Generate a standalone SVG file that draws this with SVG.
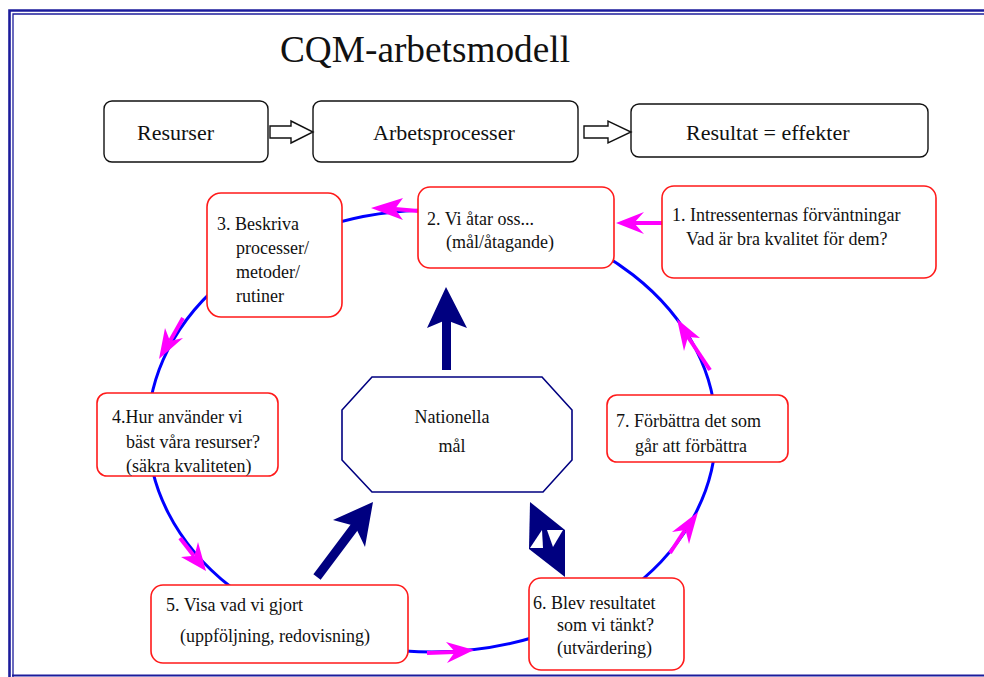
<svg xmlns="http://www.w3.org/2000/svg" width="984" height="677" viewBox="0 0 984 677" font-family="'Liberation Serif','Times New Roman',serif">
<style>
text{font-family:"Liberation Serif","Times New Roman",serif;fill:#111}
.t{font-size:18px}
.top{font-size:22px}
.rb{fill:#fff;stroke:#ff1a1a;stroke-width:1.6}
.bb{fill:#fff;stroke:#111;stroke-width:1.4}
.mg{stroke:#ff00ff;stroke-width:4;fill:none}
.mh{fill:#ff00ff}
.nv{fill:#000080}
</style>
<rect width="984" height="677" fill="#fff"/>
<g id="frame" fill="none" stroke="#1c1c9c">
<path d="M9.5,677 V10.5 H984" stroke-width="2.6"/>
<path d="M13,677 V14 H984" stroke-width="1.3"/>
<path d="M12,675.5 H984" stroke-width="2.2"/>
</g>
<text id="title" x="280" y="62" font-size="37" textLength="290" lengthAdjust="spacingAndGlyphs">CQM-arbetsmodell</text>

<g id="ring">
<ellipse cx="432" cy="431" rx="284" ry="221" fill="none" stroke="#0000ff" stroke-width="3"/>
</g>

<g id="resurser"><rect class="bb" x="104" y="101" width="164" height="61" rx="8"/><text class="top" x="137" y="140">Resurser</text></g>
<g id="arbetsprocesser"><rect class="bb" x="313" y="101" width="265" height="61" rx="8"/><text class="top" x="373" y="140">Arbetsprocesser</text></g>
<g id="resultat"><rect class="bb" x="631" y="104" width="297" height="53" rx="8"/><text class="top" x="686" y="140">Resultat = effekter</text></g>

<g id="connectors">
<path class="bb" d="M270,126 H291 V121 L313,132 L291,143 V138 H270 Z"/>
<path class="bb" d="M584,126 H608 V121 L631,132 L608,143 V138 H584 Z"/>
<line class="mg" x1="418" y1="211" x2="395" y2="209"/>
<polygon class="mh" points="371,208 403,198 395,209 403,220"/>
<line class="mg" x1="670" y1="223" x2="633" y2="223"/>
<polygon class="mh" points="616,223 644,212 634,223 644,234"/>
<line class="mg" x1="183" y1="318" x2="170" y2="341"/>
<polygon class="mh" points="159,359 165,328 170,341 183,338"/>
<line class="mg" x1="180" y1="538" x2="194" y2="556"/>
<polygon class="mh" points="206,571 181,557 194.5,555.7 198,542"/>
<line class="mg" x1="427" y1="653" x2="455" y2="652"/>
<polygon class="mh" points="474,650 446,642 455,651.8 447,663"/>
<line class="mg" x1="670" y1="553" x2="685" y2="530"/>
<polygon class="mh" points="698,512 672,532 685.5,530 689,544"/>
<line class="mg" x1="710" y1="370" x2="688" y2="337"/>
<polygon class="mh" points="677,319 700,338 688,337 684,351"/>
<rect class="nv" x="442" y="318" width="9" height="52"/>
<polygon class="nv" points="446,287 467,328 446,320 427,328"/>
<line x1="317" y1="577" x2="356" y2="525" stroke="#000080" stroke-width="9"/>
<polygon class="nv" points="373,502 365,547 355,526 333,520"/>
<polygon class="nv" points="530,502 565,530 565,577 529,549"/>
<polygon fill="#fff" points="530,548 542,530 543,548"/>
<polygon fill="#fff" points="547,530 563,530 553,547"/>
</g>

<g id="n1"><rect class="rb" x="662" y="186" width="274" height="92" rx="12"/>
<text class="t" x="672" y="221">1. Intressenternas förväntningar</text>
<text class="t" x="686" y="245">Vad är bra kvalitet för dem?</text></g>
<g id="n2"><rect class="rb" x="418" y="187" width="196" height="81" rx="12"/>
<text class="t" x="427" y="225">2. Vi åtar oss...</text>
<text class="t" x="446" y="248">(mål/åtagande)</text></g>
<g id="n3"><rect class="rb" x="207" y="193" width="135" height="124" rx="14"/>
<text class="t" x="217" y="230">3. Beskriva</text>
<text class="t" x="236" y="254">processer/</text>
<text class="t" x="236" y="278">metoder/</text>
<text class="t" x="236" y="302">rutiner</text></g>
<g id="n4"><rect class="rb" x="97" y="393" width="181" height="83" rx="10"/>
<text class="t" x="112" y="423">4.Hur använder vi</text>
<text class="t" x="126" y="448">bäst våra resurser?</text>
<text class="t" x="126" y="472">(säkra kvaliteten)</text></g>
<g id="n5"><rect class="rb" x="151" y="585" width="257" height="78" rx="12"/>
<text class="t" x="166" y="611">5. Visa vad vi gjort</text>
<text class="t" x="180" y="642">(uppföljning, redovisning)</text></g>
<g id="n6"><rect class="rb" x="529" y="578" width="155" height="92" rx="12"/>
<text class="t" x="533" y="609">6. Blev resultatet</text>
<text class="t" x="557" y="631">som vi tänkt?</text>
<text class="t" x="557" y="654">(utvärdering)</text></g>
<g id="n7"><rect class="rb" x="607" y="395" width="181" height="67" rx="10"/>
<text class="t" x="616" y="427">7. Förbättra det som</text>
<text class="t" x="635" y="452">går att förbättra</text></g>
<g id="nat"><polygon points="372,377 542,377 572,410 572,460 543,492 372,492 342,460 342,410" fill="#fff" stroke="#000080" stroke-width="1.6"/>
<text class="t" x="452" y="423" text-anchor="middle">Nationella</text>
<text class="t" x="452" y="452" text-anchor="middle">mål</text></g>
</svg>
